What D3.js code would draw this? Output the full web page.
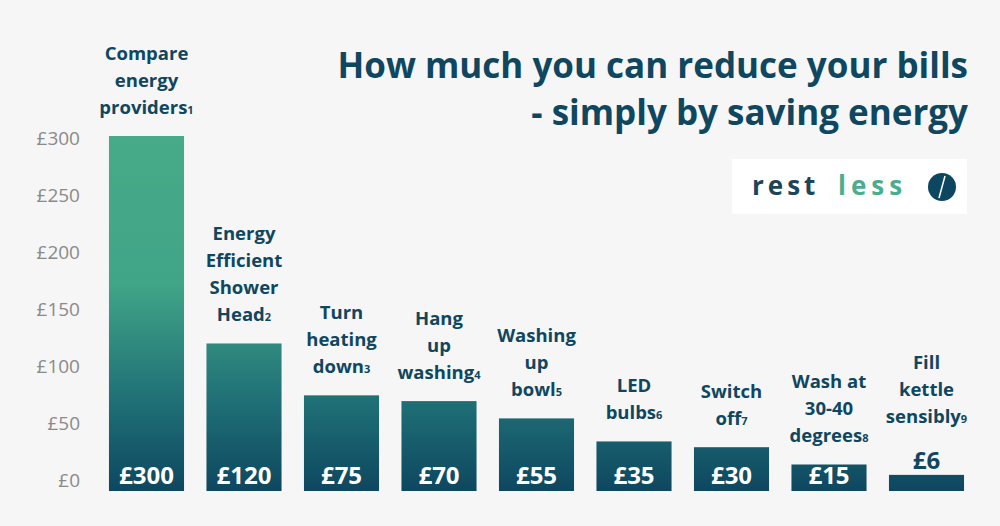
<!DOCTYPE html><html><head><meta charset="utf-8">
<script src="https://cdn.jsdelivr.net/npm/d3@7"></script>
<style>body{margin:0;background:#f6f6f6}text{font-family:"Open Sans",sans-serif}</style></head><body>
<svg id="c" width="1000" height="526"></svg>
<script>
const categories=[["Compare","energy","providers"],["Energy","Efficient","Shower","Head"],["Turn","heating","down"],["Hang","up","washing"],["Washing","up","bowl"],["LED","bulbs"],["Switch","off"],["Wash at","30-40","degrees"],["Fill","kettle","sensibly"]];
const values=[300,120,75,70,55,35,30,15,6];
const ticks=[0,50,100,150,200,250,300];
const svg=d3.select("#c");
svg.append("rect").attr("width",1000).attr("height",526).attr("fill","#f6f6f6");
const dark="#0f4660";
const x=d3.scaleBand().domain(d3.range(values.length)).range([97.75,975.25]).paddingInner(0.23).paddingOuter(0.115);
const yAxis=d3.scaleLinear().domain([0,300]).range([480,138]);
const y=d3.scaleLinear().domain([-8,300]).range([491,136]);
const g=svg.append("defs").append("linearGradient").attr("id","gr").attr("gradientUnits","userSpaceOnUse").attr("x1",0).attr("x2",0).attr("y1",136).attr("y2",491);
[[0,"#47ab89"],[0.42,"#40a487"],[0.75,"#1f6f76"],[1,"#0e4760"]].forEach(s=>g.append("stop").attr("offset",s[0]).attr("stop-color",s[1]));
svg.append("g").selectAll("text").data(ticks).join("text").attr("x",80).attr("y",d=>yAxis(d)+7).attr("text-anchor","end").attr("font-size",19).attr("fill","#8a8a8a").text(d=>"£"+d);
svg.append("g").selectAll("rect").data(values).join("rect").attr("x",(d,i)=>x(i)).attr("width",x.bandwidth()).attr("y",d=>y(d)).attr("height",d=>491-y(d)).attr("fill","url(#gr)");
values.forEach((v,i)=>{
 const cx=x(i)+x.bandwidth()/2;
 const small=v<10;
 svg.append("text").attr("x",cx).attr("y",small?469:484).attr("text-anchor","middle").attr("font-size",24).attr("font-weight",700).attr("fill",small?dark:"#fff").text("£"+v);
 const lines=categories[i];const top=(small?445:y(v))-22;
 lines.forEach((l,k)=>{
  const t=svg.append("text").attr("x",cx).attr("y",top-(lines.length-1-k)*27).attr("text-anchor","middle").attr("font-size",18.5).attr("font-weight",700).attr("fill",dark).text(l);
  if(k==lines.length-1)t.append("tspan").attr("font-size",11).attr("dy",0).text(i+1);
 });
});
svg.append("text").attr("x",968).attr("y",78).attr("text-anchor","end").attr("font-size",35).attr("font-weight",700).attr("fill",dark).text("How much you can reduce your bills");
svg.append("text").attr("x",968).attr("y",125).attr("text-anchor","end").attr("font-size",35).attr("font-weight",700).attr("fill",dark).text("- simply by saving energy");
svg.append("rect").attr("x",732).attr("y",159).attr("width",235).attr("height",55).attr("fill","#fff");
svg.append("text").attr("x",752).attr("y",195).attr("font-size",26).attr("font-weight",700).attr("letter-spacing",4).attr("fill","#1d4558").text("rest");
svg.append("text").attr("x",838).attr("y",195).attr("font-size",26).attr("font-weight",700).attr("letter-spacing",5).attr("fill","#4aae8c").text("less");
svg.append("circle").attr("cx",942).attr("cy",187).attr("r",14).attr("fill","#0d4660");
svg.append("line").attr("x1",939).attr("y1",198).attr("x2",945).attr("y2",176).attr("stroke","#fff").attr("stroke-width",1.5);
</script></body></html>
